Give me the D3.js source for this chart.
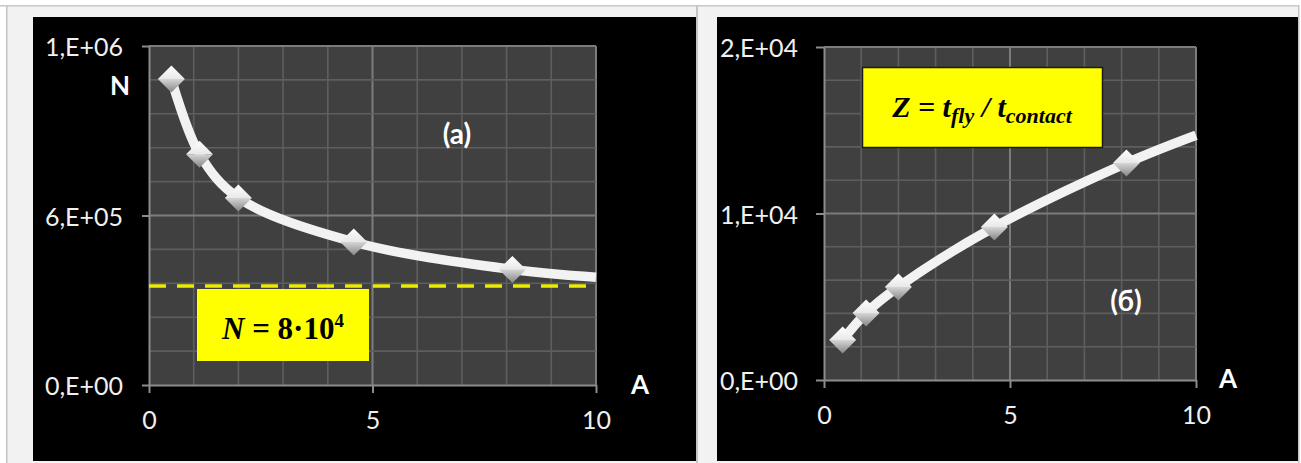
<!DOCTYPE html>
<html>
<head>
<meta charset="utf-8">
<script src="https://cdn.jsdelivr.net/npm/d3@7.9.0/dist/d3.min.js"></script>
<style>
  html, body { margin: 0; padding: 0; background: #fff; }
  svg { display: block; }
  .sans { font-family: Lato, "Open Sans", sans-serif; }
  .serif { font-family: "Liberation Serif", "DejaVu Serif", serif; }
</style>
</head>
<body>
<svg id="chart" width="1301" height="463"></svg>
<script>
// amplitude A, common to both panels
const amplitude = [0.5, 1.13, 2.0, 4.58, 8.13];
// panel (a): N vs A
const nValues = [993000, 749000, 607000, 464000, 375000];
const nAtTen = 350000;          // where the smoothed curve leaves the plot at A = 10
const nThreshold = 321000;      // dashed yellow line
// panel (б): Z vs A
const zValues = [2400, 4020, 5590, 9190, 13030];
const zAtTen = 14700;

const aTicks = [0, 5, 10];
const nTicks = [0, 550000, 1100000];
const nTickLabels = ['0,E+00', '6,E+05', '1,E+06'];
const zTicks = [0, 10000, 20000];
const zTickLabels = ['0,E+00', '1,E+04', '2,E+04'];

const svg = d3.select('#chart');

// page frame
svg.append('rect').attr('x', 7).attr('y', 6).attr('width', 1291).attr('height', 457).attr('fill', '#f2f2f2');
svg.append('rect').attr('x', 0).attr('y', 5).attr('width', 1299).attr('height', 1.5).attr('fill', '#c8c8c8');
svg.append('rect').attr('x', 6).attr('y', 5).attr('width', 1.5).attr('height', 458).attr('fill', '#c4c4c4');
svg.append('rect').attr('x', 696).attr('y', 5).attr('width', 2).attr('height', 458).attr('fill', '#c4c4c4');
svg.append('rect').attr('x', 1298).attr('y', 5).attr('width', 1.5).attr('height', 458).attr('fill', '#c4c4c4');

// marker shading
const defs = svg.append('defs');
let gTop = defs.append('linearGradient').attr('id', 'mTop').attr('x1', 0).attr('y1', 0).attr('x2', 0).attr('y2', 1);
gTop.append('stop').attr('offset', '0%').attr('stop-color', '#ffffff');
gTop.append('stop').attr('offset', '100%').attr('stop-color', '#e8e8e8');
let gBot = defs.append('linearGradient').attr('id', 'mBot').attr('x1', 0).attr('y1', 0).attr('x2', 0).attr('y2', 1);
gBot.append('stop').attr('offset', '0%').attr('stop-color', '#d6d6d6');
gBot.append('stop').attr('offset', '100%').attr('stop-color', '#858585');

function drawPanel(p) {
  // black chart area
  svg.append('rect')
    .attr('x', p.box[0]).attr('y', 17)
    .attr('width', p.box[1] - p.box[0]).attr('height', 444)
    .attr('fill', '#000');

  let x = d3.scaleLinear().domain([0, 10]).range([p.plot.left, p.plot.right]);
  let y = d3.scaleLinear().domain([0, p.yMax]).range([p.plot.bottom, p.plot.top]);

  let g = svg.append('g');
  g.append('rect')
    .attr('x', x(0)).attr('y', y(p.yMax))
    .attr('width', x(10) - x(0)).attr('height', y(0) - y(p.yMax))
    .attr('fill', '#404040');

  // minor / major gridlines
  d3.range(1, 11).forEach((a) => {
    g.append('line')
      .attr('x1', x(a)).attr('x2', x(a)).attr('y1', y(0)).attr('y2', y(p.yMax))
      .attr('stroke', a % 5 === 0 ? '#7c7c7c' : '#5e5e5e')
      .attr('stroke-width', a % 5 === 0 ? 2 : 1.6);
  });
  d3.range(1, 11).forEach((i) => {
    let v = i * p.yMax / 10;
    g.append('line')
      .attr('x1', x(0)).attr('x2', x(10)).attr('y1', y(v)).attr('y2', y(v))
      .attr('stroke', i % 5 === 0 ? '#7c7c7c' : '#5e5e5e')
      .attr('stroke-width', i % 5 === 0 ? 2 : 1.6);
  });

  // axes
  let yAxis = g.append('g')
    .attr('transform', `translate(${x(0)},0)`)
    .call(d3.axisLeft(y).tickValues(p.yTicks).tickFormat((d, i) => p.yLabels[i])
      .tickSize(p.tickLen).tickSizeOuter(0).tickPadding(p.labelPad));
  let xAxis = g.append('g')
    .attr('transform', `translate(0,${y(0)})`)
    .call(d3.axisBottom(x).tickValues(aTicks).tickSize(8).tickSizeOuter(0));
  [xAxis, yAxis].forEach((ax) => {
    ax.attr('font-size', null).attr('font-family', null);
    ax.select('.domain').attr('stroke', '#8c8c8c').attr('stroke-width', 2);
    ax.selectAll('.tick line').attr('stroke', '#8c8c8c').attr('stroke-width', 2);
    ax.selectAll('.tick text')
      .attr('class', 'sans').attr('fill', '#f0f0f0')
      .style('font-size', '25px');
  });
  yAxis.selectAll('.tick text').attr('dy', '0.38em');
  xAxis.selectAll('.tick text').attr('y', p.xLabelY).attr('dy', '0.36em');

  if (p.threshold !== undefined) {
    g.append('line')
      .attr('x1', x(0)).attr('x2', x(10))
      .attr('y1', y(p.threshold)).attr('y2', y(p.threshold))
      .attr('stroke', '#ecec00').attr('stroke-width', 3.5)
      .attr('stroke-dasharray', '17 11');
  }

  // smoothed curve
  let curvePts = amplitude.map((a, i) => [a, p.values[i]]).concat([[10, p.atTen]]);
  let line = d3.line().x((d) => x(d[0])).y((d) => y(d[1])).curve(d3.curveCatmullRom.alpha(0.5));
  g.append('path')
    .attr('d', line(curvePts))
    .attr('fill', 'none')
    .attr('stroke', '#f2f2f2')
    .attr('stroke-width', 9.5);

  // diamond markers
  let r = 13.5;
  amplitude.forEach((a, i) => {
    let cx = x(a), cy = y(p.values[i]);
    g.append('path')
      .attr('d', `M${cx - r},${cy} L${cx},${cy - r} L${cx + r},${cy} Z`)
      .attr('fill', 'url(#mTop)');
    g.append('path')
      .attr('d', `M${cx - r},${cy} L${cx + r},${cy} L${cx},${cy + r} Z`)
      .attr('fill', 'url(#mBot)');
  });

  return { x, y, g };
}

drawPanel({
  box: [33, 696],
  plot: { left: 149, right: 596, top: 46, bottom: 385 },
  yMax: 1100000, yTicks: nTicks, yLabels: nTickLabels,
  tickLen: 7, labelPad: 19, xLabelY: 35,
  values: nValues, atTen: nAtTen, threshold: nThreshold,
});

drawPanel({
  box: [717, 1298],
  plot: { left: 824, right: 1196, top: 47, bottom: 380 },
  yMax: 20000, yTicks: zTicks, yLabels: zTickLabels,
  tickLen: 8, labelPad: 18, xLabelY: 35,
  values: zValues, atTen: zAtTen,
});

// axis names and panel labels
function label(txt, cx, cy, size) {
  svg.append('text')
    .attr('class', 'sans')
    .attr('x', cx).attr('y', cy)
    .attr('text-anchor', 'middle').attr('dominant-baseline', 'central')
    .attr('fill', '#ffffff').attr('font-weight', 'bold')
    .style('font-size', size + 'px')
    .text(txt);
}
label('N', 120, 85, 26);
label('A', 640, 384, 26);
label('A', 1228, 378, 26);
label('(a)', 457, 133, 28);
label('(б)', 1126, 300, 28);

// yellow notes
svg.append('rect').attr('x', 197).attr('y', 289).attr('width', 172).attr('height', 72).attr('fill', '#ffff00');
let t1 = svg.append('text')
  .attr('class', 'serif').attr('x', 283).attr('y', 339)
  .attr('text-anchor', 'middle').attr('font-weight', 'bold')
  .style('font-size', '31px').attr('fill', '#000');
t1.append('tspan').attr('font-style', 'italic').text('N');
t1.append('tspan').text(' = 8·10');
t1.append('tspan').attr('dy', -12).style('font-size', '19px').text('4');

svg.append('rect').attr('x', 862.5).attr('y', 67.5).attr('width', 240).attr('height', 80)
  .attr('fill', '#ffff00').attr('stroke', '#1a1a1a').attr('stroke-width', 1.5);
let t2 = svg.append('text')
  .attr('class', 'serif').attr('x', 982).attr('y', 117)
  .attr('text-anchor', 'middle').attr('font-weight', 'bold').attr('font-style', 'italic')
  .style('font-size', '30px').attr('fill', '#000');
t2.append('tspan').text('Z = t');
t2.append('tspan').attr('dy', 6).style('font-size', '22px').text('fly');
t2.append('tspan').attr('dy', -6).text(' / t');
t2.append('tspan').attr('dy', 6).style('font-size', '22px').text('contact');
</script>
</body>
</html>
